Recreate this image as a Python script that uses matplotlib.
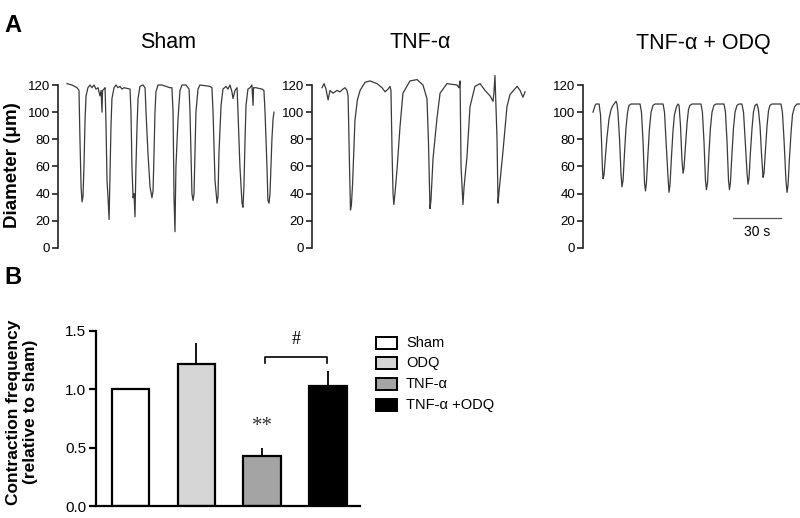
import matplotlib
matplotlib.use("Agg")
import matplotlib.pyplot as plt
from matplotlib.patches import Rectangle

plt.rcParams['font.family'] = ['Liberation Sans', 'DejaVu Sans']

# ---------------- Panel A data: diameter traces (time s, diameter um) -------------
sham_time = [0, 3.1, 6.3, 7.5, 8.1, 8.8, 9.4, 10, 10.6, 11.3, 11.9, 13.1, 14.4, 15.6, 16.9, 18.1,
             19.4, 20.6, 21.3, 21.9, 22.2, 23.1, 23.8, 24.4, 25, 25.6, 26.3, 26.6, 26.9, 27.5,
             28.1, 29.4, 30.6, 31.9, 33.1, 34.4, 35.6, 39.4, 40, 40.6, 41.3, 41.9, 42.5, 42.8,
             43.1, 43.8, 44.4, 45.6, 47.5, 48.8, 49.4, 50.6, 51.9, 53.1, 53.8, 54.4, 55, 55.6,
             56.9, 59.4, 64.4, 65.6, 66.3, 66.9, 67.5, 67.8, 68.1, 69.4, 70.6, 71.9, 74.4, 76.3,
             76.9, 77.5, 78.1, 78.8, 79.4, 80, 80.6, 81.9, 83.1, 89.4, 90.6, 91.3, 92.5, 93.8,
             94.4, 95, 96.3, 97.5, 99.4, 100.6, 101.9, 103.1, 103.8, 105, 106.3, 106.9, 108.1,
             109.4, 110, 110.6, 111.3, 111.9, 113.1, 114.4, 115.6, 116.3, 116.6, 118.1, 121.9,
             123.1, 123.8, 125, 125.6, 126.3, 126.9, 127.5, 128.1, 128.8, 129.4]
sham_diam = [121, 120, 118, 116, 80, 45, 34, 38, 60, 95, 112, 118, 120, 118, 120, 117,
             118, 112, 116, 100, 116, 117, 118, 90, 50, 38, 21, 38, 55, 90,
             110, 118, 120, 118, 119, 117, 118, 117, 100, 60, 37, 40, 23, 42,
             60, 90, 110, 119, 120, 118, 100, 70, 45, 37, 42, 70, 100, 115,
             120, 120, 118, 118, 100, 37, 12, 37, 60, 95, 116, 120, 120, 117,
             100, 70, 40, 35, 40, 70, 100, 117, 120, 119, 118, 100, 50, 33,
             38, 70, 105, 117, 119, 117, 120, 115, 110, 116, 118, 100, 60,
             33, 30, 45, 80, 105, 117, 118, 120, 105, 118, 118, 117,
             116, 100, 60, 35, 33, 40, 60, 80, 95, 100]

tnf_time = [0, 1.3, 2.5, 3.8, 5, 6.9, 9.4, 11.3, 13.1, 14.4, 15.6, 16.3, 17.2, 17.8, 18.4,
            19.1, 19.9, 20.6, 22.1, 23.8, 26.9, 30, 34.4, 37.5, 39.4, 41.3, 42.5, 43.1, 43.8,
            44.4, 44.9, 45.6, 46.9, 48.8, 50.6, 55, 59.4, 63.1, 65.6, 66.5, 67.5, 68.1, 69.4,
            71.9, 73.8, 78.1, 84.4, 85.6, 86.3, 86.9, 88.1, 88.8, 90.6, 92.5, 95.6, 98.8,
            101.9, 105, 106.9, 107.5, 108.1, 109.4, 110, 110.6, 113.1, 115.6, 117.5, 121.9,
            123.8, 125.6, 126.9]
tnf_diam = [118, 121, 117, 109, 116, 114, 116, 115, 117, 118, 116, 112, 60, 28, 32,
            47, 72, 94, 109, 116, 122, 123, 121, 118, 115, 117, 119, 116, 70,
            40, 32, 40, 58, 90, 114, 123, 124, 120, 110, 80, 29, 35, 66,
            96, 114, 121, 120, 118, 123, 60, 32, 45, 67, 104, 119, 121,
            116, 112, 108, 115, 127, 80, 33, 41, 71, 104, 113, 119,
            116, 111, 115]

odq_time = [0, 1.3, 1.9, 3.8, 4.7, 5.3, 5.9, 6.3, 6.9, 7.8, 8.8, 10, 11.3, 12.5, 14.4, 15,
            15.6, 16.6, 17.5, 18.1, 18.8, 19.7, 20.6, 21.6, 22.5, 23.8, 29.4, 30.3, 31.3, 32.2,
            32.8, 33.4, 34.4, 35.3, 36.3, 37.5, 38.8, 43.8, 44.7, 45.6, 46.9, 47.5, 48.1, 49.1,
            50, 50.9, 52.2, 53.1, 53.8, 54.7, 55.6, 56.3, 56.9, 57.8, 58.8, 59.7, 60.6, 61.9,
            67.5, 68.4, 69.4, 70.3, 70.9, 71.6, 72.5, 73.4, 74.4, 75.6, 76.9, 81.9, 82.8, 83.8,
            84.7, 85.3, 85.9, 86.9, 87.8, 88.8, 90, 91.3, 93.1, 94.1, 95, 96.3, 96.9, 97.5,
            98.4, 99.4, 100.3, 101.3, 102.5, 103.4, 104.4, 105.3, 106.3, 106.9, 107.8, 108.8,
            109.7, 110.6, 111.9, 117.5, 118.4, 119.4, 120.6, 121.3, 121.9, 122.8, 123.8, 124.7,
            126, 127.5, 129.4]
odq_diam = [100, 105, 106, 106, 98, 80, 58, 51, 54, 68, 82, 95, 102, 105, 108, 106,
            100, 80, 55, 45, 50, 70, 88, 100, 105, 106, 106, 100, 78, 48,
            42, 48, 70, 88, 100, 105, 106, 106, 100, 80, 52, 41, 46, 68,
            86, 98, 104, 106, 105, 90, 65, 55, 59, 75, 92, 102, 105, 106,
            106, 100, 78, 50, 43, 48, 70, 88, 100, 105, 106, 106, 100, 78,
            50, 43, 48, 70, 88, 100, 105, 106, 106, 100, 82, 55, 47, 51,
            70, 88, 100, 105, 106, 102, 90, 70, 52, 55, 72, 90,
            101, 105, 106, 106, 100, 80, 50, 41, 46, 66, 85, 98,
            104, 106, 106]

trace_titles = ["Sham", "TNF-\u03b1", "TNF-\u03b1 + ODQ"]
diam_ticks = [0, 20, 40, 60, 80, 100, 120]
scalebar_seconds = 30

# ---------------- Panel B data ----------------
groups = ["Sham", "ODQ", "TNF-\u03b1", "TNF-\u03b1 +ODQ"]
freq_mean = [1.00, 1.22, 0.43, 1.03]
freq_sem = [0.00, 0.18, 0.07, 0.13]
bar_colors = ["white", "#d6d6d6", "#a4a4a4", "black"]
freq_ticks = [0.0, 0.5, 1.0, 1.5]

W, H = 800, 518
fig = plt.figure(figsize=(W / 100, H / 100), dpi=100)


def px_axes(left, top, right, bottom):
    return fig.add_axes([left / W, 1 - bottom / H, (right - left) / W, (bottom - top) / H])


def fx(x):
    return x / W


def fy(y):
    return 1 - y / H


trace_color = "#3a3a3a"
traces = [(sham_time, sham_diam), (tnf_time, tnf_diam), (odq_time, odq_diam)]
boxes = [(58, 282, -5.625, 134.4), (312, 530, -6.25, 130.0), (583, 800, -6.25, 129.4)]
title_x = [168, 420, 703]
axesA = []
for (t, d), (l, r, x0, x1), title, tx in zip(traces, boxes, trace_titles, title_x):
    ax = px_axes(l, 85, r, 248)
    ax.plot(t, d, color=trace_color, lw=0.9, clip_on=False)
    ax.set_xlim(x0, x1)
    ax.set_ylim(0, 120)
    for s in ["top", "right", "bottom"]:
        ax.spines[s].set_visible(False)
    ax.spines["left"].set_linewidth(1.2)
    ax.spines["left"].set_color("#222222")
    ax.set_xticks([])
    ax.set_yticks(diam_ticks)
    ax.tick_params(axis="y", length=4, width=1.2, labelsize=9.5, pad=1.5, colors="#222222",
                   labelcolor="black")
    ax.patch.set_alpha(0)
    fig.text(fx(tx), fy(43), title, fontsize=15.5, ha="center", va="center")
    axesA.append(ax)

# scale bar on the last trace
axo = axesA[2]
sb_start = 87.5
axo.plot([sb_start, sb_start + scalebar_seconds], [22, 22], color="#555555", lw=0.9, clip_on=False)
axo.text(sb_start + scalebar_seconds / 2, 11.5, f"{scalebar_seconds} s", fontsize=10,
         ha="center", va="center")

fig.text(fx(13), fy(165), "Diameter (\u03bcm)", fontsize=13.5, fontweight="bold",
         rotation=90, ha="center", va="center")
fig.text(fx(13), fy(26), "A", fontsize=17, fontweight="bold", ha="center", va="center")
fig.text(fx(13), fy(278), "B", fontsize=17, fontweight="bold", ha="center", va="center")

# ---------------- Panel B ----------------
axb = px_axes(96, 331, 360, 506)
xpos = list(range(len(groups)))
axb.bar(xpos, freq_mean, width=0.57, color=bar_colors, edgecolor="black", linewidth=1.6, zorder=2)
axb.errorbar(xpos, freq_mean, yerr=[[0] * len(groups), freq_sem], fmt="none", ecolor="black",
             elinewidth=1.3, capsize=0, zorder=1)
axb.set_xlim(-0.525, 3.49)
axb.set_ylim(0, 1.5)
axb.set_yticks(freq_ticks)
axb.set_yticklabels([f"{v:.1f}" for v in freq_ticks])
axb.set_xticks([])
for s in ["top", "right"]:
    axb.spines[s].set_visible(False)
for s in ["left", "bottom"]:
    axb.spines[s].set_linewidth(1.6)
axb.tick_params(axis="y", length=5, width=1.6, labelsize=11, pad=2)

# significance marks
axb.plot([2.05, 2.05, 2.99, 2.99], [1.226, 1.277, 1.277, 1.226], color="black", lw=1.2,
         clip_on=False)
axb.text(2.52, 1.43, "#", fontsize=13, ha="center", va="center", family="Liberation Serif")
axb.text(2.0, 0.68, "**", fontsize=15, ha="center", va="center", family="Liberation Serif",
         color="#333333")

fig.text(fx(22), fy(412), "Contraction frequency\n(relative to sham)", fontsize=12.5,
         fontweight="bold", rotation=90, ha="center", va="center", linespacing=1.1,
         multialignment="center")

# legend drawn manually
row_y = [343, 363, 384, 405]
for name, col, ry in zip(groups, bar_colors, row_y):
    fig.add_artist(Rectangle((fx(376), fy(ry + 6)), 21 / W, 12 / H, transform=fig.transFigure,
                             facecolor=col, edgecolor="black", linewidth=1.4))
    fig.text(fx(406), fy(ry), name, fontsize=10.5, ha="left", va="center")

fig.savefig("out.png", dpi=100)
